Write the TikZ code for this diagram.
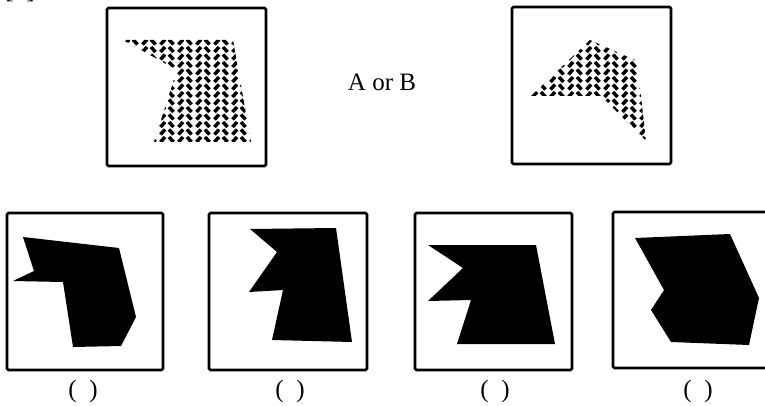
\documentclass[tikz,border=0pt]{standalone}
\usepackage{fontspec}
\setmainfont{Liberation Serif}
\usetikzlibrary{positioning}

% herringbone fill inside the current clip, starting at (#1,#2)
\newcommand{\herring}[2]{%
  \foreach \i in {0,...,8}
    \foreach \j in {0,...,16}
      {\draw[stitch] (#1+18*\i-7,#2+7.5*\j) -- (#1+18*\i-2.5,#2+7.5*\j+5);
       \draw[stitch] (#1+18*\i+7,#2+7.5*\j) -- (#1+18*\i+2.5,#2+7.5*\j+5);}%
}

\begin{document}
\begin{tikzpicture}[
            x=1pt, y=-1pt,
            font=\fontsize{25}{28}\selectfont,
            frame/.style={draw, line width=2.6pt, rounded corners=1.5pt},
            solid/.style={fill=black},
            stitch/.style={line width=3.5pt},
            paren/.style={anchor=base},
            ]

            \useasboundingbox (0,0) rectangle (765,406);
            \clip (0,0) rectangle (765,406);

            % cut-off heading at the top
            \node[paren] (head) at (20,-1.5) {[\enspace]};

            % top row: the two given figures
            \draw[frame] (107,8) rectangle (266,166);
            \begin{scope}
                \clip (123,40) -- (233,40) -- (251,142) -- (154,142) -- (177,70) -- cycle;
                \herring{122}{32}
            \end{scope}

            \node (ab) at (382,82) {A or B};

            \draw[frame] (512,7) rectangle (671,164);
            \begin{scope}
                \clip (531,96) -- (590,40) -- (637,61) -- (646,141) -- (601,96) -- cycle;
                \herring{530}{32}
            \end{scope}

            % bottom row: the four answer figures
            \draw[frame] (7,213) rectangle (163,370);
            \fill[solid] (23,237) -- (119,248) -- (136,317) -- (121,346) -- (73,347)
                -- (63,282) -- (13,281) -- (34,271) -- cycle;
            \node[paren] (p1) at (83,397) {(\enspace)};

            \draw[frame] (209,213) rectangle (367,370);
            \fill[solid] (250,229) -- (336,228) -- (352,342) -- (272,340) -- (283,290)
                -- (249,292) -- (277,252) -- cycle;
            \node[paren] (p2) at (290,397) {(\enspace)};

            \draw[frame] (415,213) rectangle (572,370);
            \fill[solid] (428,245) -- (536,245) -- (555,344) -- (457,344) -- (471,300)
                -- (428,301) -- (463,268) -- cycle;
            \node[paren] (p3) at (495,397) {(\enspace)};

            \draw[frame] (613,212) rectangle (780,368);
            \fill[solid] (635,238) -- (730,234) -- (759,298) -- (749,345) -- (671,342)
                -- (651,310) -- (664,290) -- cycle;
            \node[paren] (p4) at (698,397) {(\enspace)};
        \end{tikzpicture}
\end{document}
